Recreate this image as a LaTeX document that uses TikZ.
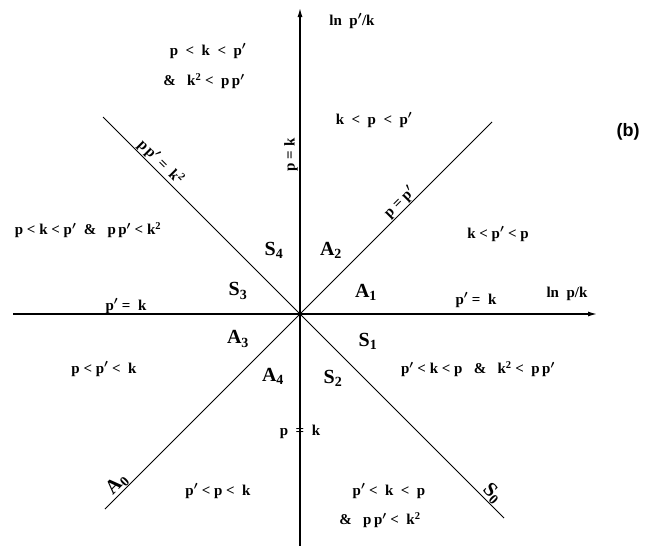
\documentclass[tikz,border=0pt]{standalone}
\usepackage{fontspec}
\setmainfont{Liberation Serif}
\newfontfamily\labelsans{Liberation Sans}
\usetikzlibrary{arrows.meta}
\newcommand{\pr}{\ensuremath{^{\prime}}}
\newcommand{\sq}{\textsuperscript{2}}
\begin{document}
\begin{tikzpicture}[x=1pt,y=-1pt,
  lbl/.style={font=\boldmath\bfseries\fontsize{15}{17}\selectfont, inner sep=1pt},
  reg/.style={font=\bfseries\fontsize{20}{22}\selectfont, inner sep=0.5pt},
  axis/.style={line width=1.3pt, -{Latex[length=9pt,width=5pt]}},
  diag/.style={line width=1pt}]
\useasboundingbox (0,0) rectangle (662,546);
\coordinate (O) at (300,314);
\coordinate (xw) at (13,314);
\coordinate (xe) at (597,314);
\coordinate (ys) at (300,546);
\coordinate (yn) at (300,8);
\coordinate (asw) at (105,509);
\coordinate (ane) at (492,122);
\coordinate (snw) at (103,117);
\coordinate (sse) at (504,518);
\draw[axis] (xw) -- (xe);
\draw[axis] (ys) -- (yn);
\draw[diag] (asw) -- (ane);
\draw[diag] (snw) -- (sse);
% axis labels
\node[lbl] (yl) at (352,21) {ln\ \ p\pr/k};
\node[lbl] (xl) at (567,294) {ln\ \ p/k};
\node[font=\labelsans\bfseries\fontsize{18}{20}\selectfont] (b) at (628,132) {(b)};
% region texts
\node[lbl] (t1) at (208,51) {p \ < \ k \ < \ p\pr};
\node[lbl] (t2) at (204,81) {\& \ \ k\sq\ < \ p\,p\pr};
\node[lbl] (t3) at (374,120) {k \ < \ p \ < \ p\pr};
\node[lbl] (t4) at (498,234) {k < p\pr\ < p};
\node[lbl] (t5) at (88,230) {p < k < p\pr \ \ \& \ \ p\,p\pr\ < k\sq};
\node[lbl] (t6) at (478,369) {p\pr\ < k < p \ \ \& \ \ k\sq\ < \ p\,p\pr};
\node[lbl] (t7) at (104,369) {p < p\pr\ < \ k};
\node[lbl] (t8) at (218,491) {p\pr\ < p < \ k};
\node[lbl] (t9) at (389,491) {p\pr\ < \ k \ < \ p};
\node[lbl] (t10) at (380,520) {\& \ \ p\,p\pr\ < \ k\sq};
% line labels
\node[lbl] (l1) at (126,306) {p\pr\ = \ k};
\node[lbl] (l2) at (476,300) {p\pr\ = \ k};
\node[lbl, rotate=90, anchor=south] (l3) at (299,155) {p = k};
\node[lbl] (l4) at (300,432) {p \ = \ k};
\node[lbl, rotate=45, anchor=south] (l5) at (405.5,208.5) {p = p\pr};
\node[lbl, rotate=-45, anchor=south] (l6) at (154.5,168.5) {p\,p\pr\ = \ k\sq};
\node[reg, rotate=45, anchor=south] (l7) at (123.5,490.5) {A\textsubscript{0}};
\node[reg, rotate=-45, anchor=south] (l8) at (486,500) {S\textsubscript{0}};
% sector labels
\node[reg] (s4) at (274,250) {S\textsubscript{4}};
\node[reg] (a2) at (331,250) {A\textsubscript{2}};
\node[reg] (s3) at (238,291) {S\textsubscript{3}};
\node[reg] (a1) at (366,292) {A\textsubscript{1}};
\node[reg] (a3) at (238,339) {A\textsubscript{3}};
\node[reg] (s1) at (368,341) {S\textsubscript{1}};
\node[reg] (a4) at (273,376) {A\textsubscript{4}};
\node[reg] (s2) at (333,378) {S\textsubscript{2}};
\end{tikzpicture}
\end{document}
